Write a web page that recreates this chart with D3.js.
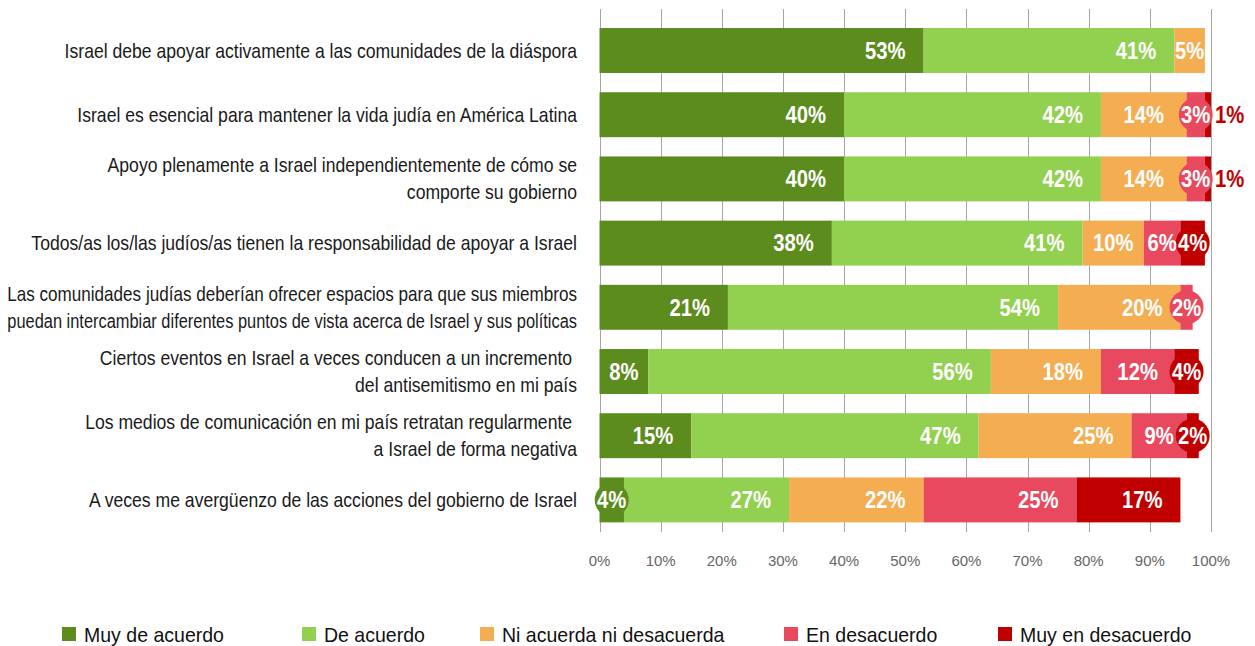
<!DOCTYPE html>
<html>
<head>
<meta charset="utf-8">
<script src="https://cdn.jsdelivr.net/npm/d3@7"></script>
<style>
  body { margin: 0; background: #fff; }
  svg { display: block; }
</style>
</head>
<body>
<div id="chart"></div>
<script>
// statements, one per bar (lines split where the reference wraps them)
var statements = [
  ["Israel debe apoyar activamente a las comunidades de la diáspora"],
  ["Israel es esencial para mantener la vida judía en América Latina"],
  ["Apoyo plenamente a Israel independientemente de cómo se", "comporte su gobierno"],
  ["Todos/as los/las judíos/as tienen la responsabilidad de apoyar a Israel"],
  ["Las comunidades judías deberían ofrecer espacios para que sus miembros", "puedan intercambiar diferentes puntos de vista acerca de Israel y sus políticas"],
  ["Ciertos eventos en Israel a veces conducen a un incremento ", "del antisemitismo en mi país"],
  ["Los medios de comunicación en mi país retratan regularmente ", "a Israel de forma negativa"],
  ["A veces me avergüenzo de las acciones del gobierno de Israel"]
];

var answers = ["Muy de acuerdo", "De acuerdo", "Ni acuerda ni desacuerda", "En desacuerdo", "Muy en desacuerdo"];

// percentages per answer, same order as statements
var muyDeAcuerdo   = [53, 40, 40, 38, 21,  8, 15,  4];
var deAcuerdo      = [41, 42, 42, 41, 54, 56, 47, 27];
var niNi           = [ 5, 14, 14, 10, 20, 18, 25, 22];
var enDesacuerdo   = [ 0,  3,  3,  6,  2, 12,  9, 25];
var muyDesacuerdo  = [ 0,  1,  1,  4,  0,  4,  2, 17];

var ticks = [0, 10, 20, 30, 40, 50, 60, 70, 80, 90, 100];

var colors = ["#5b8c1d", "#92d050", "#f5ad52", "#e8495e", "#c00000"];

var width = 1255, height = 646;
var series = [muyDeAcuerdo, deAcuerdo, niNi, enDesacuerdo, muyDesacuerdo];

var svg = d3.select("#chart").append("svg")
  .attr("width", width)
  .attr("height", height);

var x = d3.scaleLinear().domain([0, 100]).range([599.5, 1211]);
var y = d3.scaleBand()
  .domain(d3.range(statements.length))
  .range([18.4, 532])
  .paddingInner(0.3)
  .paddingOuter(0.15);

// no condensed face installed, so squeeze Liberation Sans horizontally
var font = "'Liberation Sans', Arial, sans-serif";
var squeeze = 0.88;
var labelRight = 577, labelMaxW = 570;

// gridlines
svg.append("g").selectAll("line")
  .data(ticks)
  .join("line")
  .attr("x1", d => Math.round(x(d)) + 0.5)
  .attr("x2", d => Math.round(x(d)) + 0.5)
  .attr("y1", 9)
  .attr("y2", 532)
  .attr("stroke", "#a6a6a6")
  .attr("stroke-width", 1);

// axis labels
svg.append("g").selectAll("text")
  .data(ticks)
  .join("text")
  .attr("x", d => x(d))
  .attr("y", 566)
  .attr("text-anchor", "middle")
  .attr("font-family", font)
  .attr("font-size", 15)
  .attr("fill", "#666")
  .text(d => d + "%");

// build stacked segments
var segs = [];
statements.forEach(function(s, i) {
  var acc = 0;
  series.forEach(function(vals, k) {
    var v = vals[i];
    if (v > 0) segs.push({row: i, k: k, v: v, x0: acc, x1: acc + v});
    acc += v;
  });
});

var bars = svg.append("g");
bars.selectAll("rect")
  .data(segs)
  .join("rect")
  .attr("x", d => x(d.x0))
  .attr("y", d => y(d.row))
  .attr("width", d => x(d.x1) - x(d.x0))
  .attr("height", y.bandwidth())
  .attr("fill", d => colors[d.k]);

// small segments get a round badge
bars.selectAll("circle")
  .data(segs.filter(d => d.v > 1 && d.v <= 4))
  .join("circle")
  .attr("cx", d => (x(d.x0) + x(d.x1)) / 2)
  .attr("cy", d => y(d.row) + y.bandwidth() / 2)
  .attr("r", 17)
  .attr("fill", d => colors[d.k]);

function labelX(d) {
  var w = x(d.x1) - x(d.x0);
  if (d.v <= 1) return x(d.x1) + 4;
  if (w < 90) return (x(d.x0) + x(d.x1)) / 2;
  return x(d.x1) - 18;
}
function labelAnchor(d) {
  var w = x(d.x1) - x(d.x0);
  if (d.v <= 1) return "start";
  if (w < 90) return "middle";
  return "end";
}

svg.append("g")
  .attr("font-family", font)
  .attr("font-weight", "bold")
  .attr("font-size", 23)
  .selectAll("text")
  .data(segs)
  .join("text")
  .attr("transform", d => "translate(" + labelX(d) + "," + (y(d.row) + y.bandwidth() / 2) + ") scale(0.88,1)")
  .attr("text-anchor", labelAnchor)
  .attr("dy", "0.36em")
  .attr("fill", d => d.v <= 1 ? colors[4] : "#fff")
  .text(d => d.v + "%");

// statement labels, one text per line so a long line can be squeezed a bit more
var catLines = [];
statements.forEach(function(lines, i) {
  lines.forEach(function(t, j) {
    catLines.push({row: i, text: t, off: j - (lines.length - 1) / 2});
  });
});

svg.append("g")
  .attr("font-family", font)
  .attr("font-size", 20)
  .attr("fill", "#1a1a1a")
  .selectAll("text")
  .data(catLines)
  .join("text")
  .attr("text-anchor", "end")
  .attr("dy", "0.35em")
  .style("white-space", "pre")
  .text(d => d.text)
  .attr("transform", function(d) {
    var w = this.getComputedTextLength();
    var s = Math.min(squeeze, labelMaxW / w);
    var cy = y(d.row) + y.bandwidth() / 2 + d.off * 27;
    return "translate(" + labelRight + "," + cy + ") scale(" + s + ",1)";
  });

// legend
var legendX = [62, 302, 480, 784, 998];
var leg = svg.append("g").selectAll("g")
  .data(answers)
  .join("g")
  .attr("transform", (d, i) => "translate(" + legendX[i] + ",627)");

leg.append("rect")
  .attr("width", 14)
  .attr("height", 14)
  .attr("fill", (d, i) => colors[i]);

leg.append("text")
  .attr("transform", "translate(22,7) scale(0.93,1)")
  .attr("dy", "0.36em")
  .attr("font-family", font)
  .attr("font-size", 21)
  .attr("fill", "#111")
  .text(d => d);
</script>
</body>
</html>
